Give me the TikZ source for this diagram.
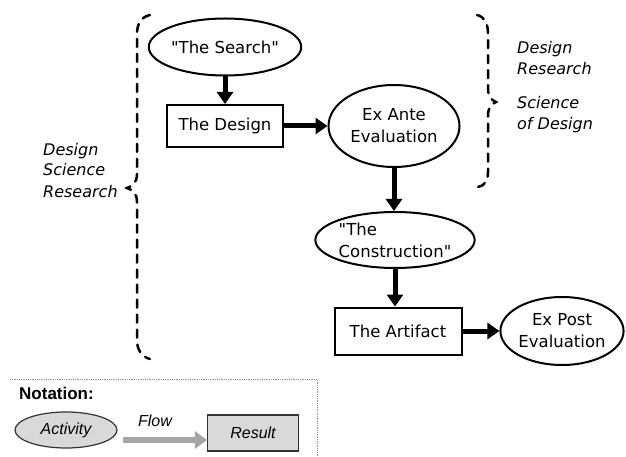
\documentclass[tikz,border=0pt]{standalone}
\usepackage{fontspec}
\setmainfont{DejaVu Sans}[Ligatures=TeXOff]
\newfontfamily\notefont{Liberation Sans}
\usetikzlibrary{shapes.geometric,arrows.meta}
\begin{document}
\begin{tikzpicture}[x=1pt,y=-1pt,
  every node/.style={font=\fontsize{16.5}{22}\selectfont},
  activity/.style={ellipse,draw,line width=2pt,inner sep=0pt,align=center},
  result/.style={rectangle,draw,line width=2pt,inner sep=0pt,align=center},
  flow/.style={line width=5pt,-{Triangle[length=12pt,width=16pt]}},
  brace/.style={line width=2.5pt,dash pattern=on 8pt off 7pt,line cap=round},
  sidelabel/.style={font=\fontsize{16}{21}\selectfont\itshape,align=left,anchor=base west,inner sep=0pt},
  notetext/.style={font=\notefont\itshape\fontsize{16}{19}\selectfont},
  noteshape/.style={draw=black!80,line width=1.2pt,fill=black!15,inner sep=0pt}
]
\useasboundingbox (0,0) rectangle (626,457);

% activities and results
\node[activity,minimum width=136pt,minimum height=57pt] (search) at (225,47) {"The Search"};
\node[result,minimum width=116pt,minimum height=42pt] (design) at (225,126) {The Design};
\node[activity,minimum width=131pt,minimum height=82pt] (exante) at (394,126) {Ex Ante\\Evaluation};
\node[activity,minimum width=156pt,minimum height=56pt,align=left] (constr) at (395,240) {"The\\Construction"};
\node[result,minimum width=127pt,minimum height=47pt] (artifact) at (398,331) {The Artifact};
\node[activity,minimum width=122pt,minimum height=68pt] (expost) at (562,331) {Ex Post\\Evaluation};

% flows
\draw[flow] (search) -- (design);
\draw[flow] (design) -- (exante);
\draw[flow] (exante.south) -- (exante.south |- constr.north);
\draw[flow] (constr.south) -- (constr.south |- artifact.north);
\draw[flow] (artifact) -- (expost);

% left brace
\draw[brace] (150,15) .. controls (141,17) and (137,24) .. (137,34)
  -- (137,174) .. controls (137,182) and (133,186) .. (127,188)
  .. controls (133,190) and (137,194) .. (137,202)
  -- (137,340) .. controls (137,350) and (142,357) .. (150,359);
% right brace
\draw[brace] (477,15) .. controls (485,17) and (488,24) .. (488,34)
  -- (488,88) .. controls (488,96) and (491,100) .. (496,102)
  .. controls (491,104) and (488,108) .. (488,116)
  -- (488,172) .. controls (488,180) and (485,186) .. (478,187);

% brace labels (anchored at the baseline of their last line)
\node[sidelabel] (dsr) at (43,197) {Design\\Science\\Research};
\node[sidelabel] (dr) at (517,75) {Design\\Research};
\node[sidelabel] (sod) at (517,130) {Science\\of Design};

% notation legend
\draw[densely dotted,black!45,line width=0.8pt] (10,379) -- (317,379) -- (317,457);
\node[font=\notefont\bfseries\fontsize{17}{20}\selectfont,anchor=base west,inner sep=0pt] (nota) at (19,399) {Notation:};
\node[noteshape,ellipse,notetext,minimum width=102pt,minimum height=36pt] (act) at (66,430) {Activity};
\node[noteshape,rectangle,notetext,minimum width=91pt,minimum height=36pt] (res) at (253,433) {Result};
\coordinate (fs) at (123,440);
\draw[line width=6pt,black!35,-{Triangle[length=12pt,width=17pt]}] (fs) -- (fs -| res.west);
\node[notetext] (flowlbl) at (155,421) {Flow};
\end{tikzpicture}
\end{document}
